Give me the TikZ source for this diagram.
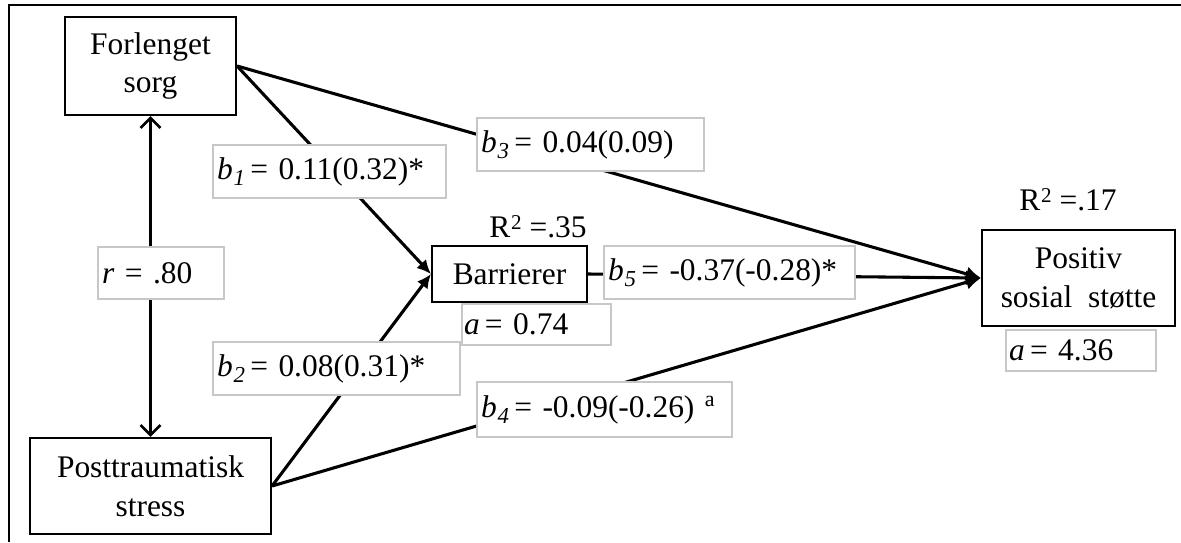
\documentclass[tikz,border=0pt]{standalone}
\usepackage{fontspec}
\setmainfont{Liberation Serif}
\usetikzlibrary{arrows.meta}
\newdimen\pxu \pxu=0.02cm
\newcommand{\bsub}[1]{\textit{b}\kern0.5pt\raisebox{-0.45ex}{\fontsize{13pt}{13pt}\selectfont\textit{#1}}\kern3pt}
\begin{document}
\begin{tikzpicture}[x=0.02cm,y=-0.02cm,
  font=\fontsize{17.9pt}{21.9pt}\selectfont,
  var/.style={draw=black, line width=1.2pt, fill=white, align=center, inner sep=0pt},
  lab/.style={draw=black!22, line width=0.6pt, fill=white, align=left, inner xsep=4\pxu, inner ysep=0pt},
  conn/.style={line width=1.75pt},
  tipb/.style={-{Latex[length=8pt,width=7.5pt]}},
  tipp/.style={-{Latex[length=8.5pt,width=8.5pt]}},
  dbl/.style={{Straight Barb[length=5.7pt,width=11.4pt,line width=1.5pt]}-{Straight Barb[length=5.7pt,width=11.4pt,line width=1.5pt]}}
]
\useasboundingbox (0,0) rectangle (1181,542);
\draw[line width=1.15pt] (9,542) -- (9,5) -- (1181,5);

% variables
\node[var, minimum width=171\pxu, minimum height=98\pxu] (F) at (150.5,66) {Forlenget\\sorg};
\node[var, minimum width=241\pxu, minimum height=96\pxu] (P) at (150.5,486) {Posttraumatisk\\stress};
\node[var, minimum width=155\pxu, minimum height=56\pxu] (B) at (509.5,274) {Barrierer};
\node[var, minimum width=193\pxu, minimum height=96\pxu] (S) at (1078.5,278) {Positiv\\sosial~ støtte};

% connectors
\draw[conn, dbl] (F.south) -- (P.north);
\draw[conn, tipb] (F.east) -- (B.west);
\draw[conn, tipb] (P.east) -- (B.west);
\draw[conn, tipp] (F.east) -- (S.west);
\draw[conn, tipp] (P.east) -- (S.west);
\draw[conn, tipp] (B.east) -- (S.west);

% labels
\node[lab, text width=118\pxu, minimum height=52\pxu] (lr) at (161,273) {\textit{r} = .80};
\node[lab, text width=225\pxu, minimum height=53\pxu] (l1) at (329.5,171.5) {\bsub{1}= 0.11(0.32)*};
\node[lab, text width=239\pxu, minimum height=53\pxu] (l2) at (336.5,368.5) {\bsub{2}= 0.08(0.31)*};
\node[lab, text width=219\pxu, minimum height=53\pxu] (l3) at (590.5,144.5) {\bsub{3}= 0.04(0.09)};
\node[lab, text width=243\pxu, minimum height=53\pxu] (l5) at (729.5,272.5) {\bsub{5}= -0.37(-0.28)*};
\node[lab, text width=247\pxu, minimum height=55\pxu] (l4) at (604.5,409.5) {\bsub{4}= -0.09(-0.26) \textsuperscript{a}};
\node[lab, text width=145\pxu, minimum height=41\pxu, inner xsep=2\pxu] (aB) at (536.5,324.5) {\textit{a}\kern3pt= 0.74};
\node[lab, text width=144\pxu, minimum height=41\pxu, inner xsep=3\pxu] (aS) at (1081,350.5) {\textit{a}\kern3pt= 4.36};

\node[anchor=base] (rB) at (538,237) {R\kern0.5pt\raisebox{0.55ex}{\fontsize{12pt}{12pt}\selectfont 2} =.35};
\node[anchor=base] (rS) at (1068,210) {R\kern0.5pt\raisebox{0.55ex}{\fontsize{12pt}{12pt}\selectfont 2} =.17};
\end{tikzpicture}
\end{document}
